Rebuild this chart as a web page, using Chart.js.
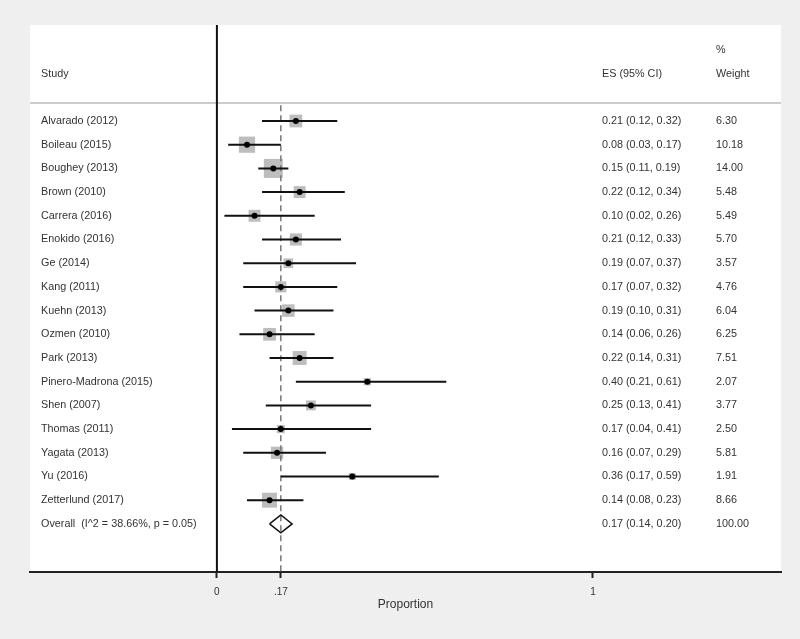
<!DOCTYPE html>
<html><head><meta charset="utf-8">
<script src="https://cdn.jsdelivr.net/npm/chart.js@4.4.1/dist/chart.umd.min.js"></script>
<style>html,body{margin:0;padding:0;background:#efefef;}#wrap{width:800px;height:639px;position:relative}</style>
</head><body><div id="wrap"><canvas id="c" width="800" height="639"></canvas></div>
<script>
const studies = ['Alvarado (2012)','Boileau (2015)','Boughey (2013)','Brown (2010)','Carrera (2016)','Enokido (2016)','Ge (2014)','Kang (2011)','Kuehn (2013)','Ozmen (2010)','Park (2013)','Pinero-Madrona (2015)','Shen (2007)','Thomas (2011)','Yagata (2013)','Yu (2016)','Zetterlund (2017)'];
const es = [0.21,0.08,0.15,0.22,0.10,0.21,0.19,0.17,0.19,0.14,0.22,0.40,0.25,0.17,0.16,0.36,0.14];
const lo = [0.12,0.03,0.11,0.12,0.02,0.12,0.07,0.07,0.10,0.06,0.14,0.21,0.13,0.04,0.07,0.17,0.08];
const hi = [0.32,0.17,0.19,0.34,0.26,0.33,0.37,0.32,0.31,0.26,0.31,0.61,0.41,0.41,0.29,0.59,0.23];
const weights = [6.30,10.18,14.00,5.48,5.49,5.70,3.57,4.76,6.04,6.25,7.51,2.07,3.77,2.50,5.81,1.91,8.66];
const overallLabel = 'Overall  (I^2 = 38.66%, p = 0.05)';
const overallES = 0.17, overallLo = 0.14, overallHi = 0.20, overallWeight = 100.00;
const xTicks = [0, 0.17, 1];
const xTitle = 'Proportion';
const headers = {study:'Study', es:'ES (95% CI)', pct:'%', weight:'Weight'};

const X_MIN = -0.497, X_MAX = 1.5, Y_MIN = -4.05, Y_MAX = 19.03;
const HEADER_Y = -0.76;
const nRows = studies.length;
const overallRow = nRows;
const maxW = Math.max(...weights);
const fmt = v => v.toFixed(2);
const FONT = "'Liberation Sans', Arial, sans-serif";

const ciData = [];
lo.forEach((l, i) => { ciData.push({x:l, y:i}, {x:hi[i], y:i}, {x:NaN, y:NaN}); });

const diamond = [
  {x:overallLo, y:overallRow},
  {x:overallES, y:overallRow-0.38},
  {x:overallHi, y:overallRow},
  {x:overallES, y:overallRow+0.38},
  {x:overallLo, y:overallRow}
];

const bgPlugin = {
  id:'bg',
  beforeDraw(chart){
    const {ctx, chartArea:a} = chart;
    ctx.save();
    ctx.fillStyle = '#efefef';
    ctx.fillRect(0,0,chart.width,chart.height);
    ctx.fillStyle = '#ffffff';
    ctx.fillRect(a.left, a.top, a.right-a.left, a.bottom-a.top);
    ctx.restore();
  }
};

const textPlugin = {
  id:'txt',
  afterDatasetsDraw(chart){
    const {ctx, chartArea:a, scales:{y}} = chart;
    const xStudy = a.left + 11, xES = a.left + 572, xW = a.left + 686;
    ctx.save();
    ctx.font = "10.8px " + FONT;
    ctx.fillStyle = '#333';
    ctx.textBaseline = 'middle';
    ctx.textAlign = 'left';
    ctx.fillText(headers.study, xStudy, y.getPixelForValue(-2));
    ctx.fillText(headers.es, xES, y.getPixelForValue(-2));
    ctx.fillText(headers.pct, xW, y.getPixelForValue(-3));
    ctx.fillText(headers.weight, xW, y.getPixelForValue(-2));
    studies.forEach((s, i) => {
      const py = y.getPixelForValue(i);
      ctx.fillText(s, xStudy, py);
      ctx.fillText(`${fmt(es[i])} (${fmt(lo[i])}, ${fmt(hi[i])})`, xES, py);
      ctx.fillText(fmt(weights[i]), xW, py);
    });
    const po = y.getPixelForValue(overallRow);
    ctx.fillText(overallLabel, xStudy, po);
    ctx.fillText(`${fmt(overallES)} (${fmt(overallLo)}, ${fmt(overallHi)})`, xES, po);
    ctx.fillText(fmt(overallWeight), xW, po);
    ctx.restore();
  }
};

new Chart(document.getElementById('c'), {
  type:'scatter',
  data:{datasets:[
    {label:'es', data:es.map((v,i)=>({x:v,y:i})), pointStyle:'circle', pointRadius:3, backgroundColor:'#000', borderWidth:0, order:0},
    {label:'ci', type:'line', data:ciData, borderColor:'#111', borderWidth:2, pointRadius:0, showLine:true, spanGaps:false, fill:false, order:1},
    {label:'diamond', type:'line', data:diamond, borderColor:'#111', borderWidth:1.5, pointRadius:0, fill:false, tension:0, order:1},
    {label:'overall', type:'line', data:[{x:overallES,y:HEADER_Y+0.1},{x:overallES,y:Y_MAX}], borderColor:'#777', borderWidth:1.5, borderDash:[6,4], pointRadius:0, fill:false, order:2},
    {label:'box', data:es.map((v,i)=>({x:v,y:i})), pointStyle:'rect', pointRadius:ctx=>{const w=weights[ctx.dataIndex]; return (19*Math.sqrt(w/maxW))/Math.SQRT2;}, backgroundColor:'#bdbdbd', borderWidth:0, order:3},
    {label:'zero', type:'line', data:[{x:0,y:Y_MIN},{x:0,y:Y_MAX}], borderColor:'#111', borderWidth:2, pointRadius:0, fill:false, order:4},
    {label:'hdr', type:'line', data:[{x:X_MIN,y:HEADER_Y},{x:X_MAX,y:HEADER_Y}], borderColor:'#bbbbbb', borderWidth:1.5, pointRadius:0, fill:false, order:4}
  ]},
  options:{
    responsive:false, animation:false, devicePixelRatio:1,
    layout:{padding:{left:30, right:19, top:25, bottom:0}},
    plugins:{legend:{display:false}, tooltip:{enabled:false}},
    scales:{
      x:{type:'linear', min:X_MIN, max:X_MAX,
        afterBuildTicks(axis){ axis.ticks = xTicks.map(v=>({value:v})); },
        afterFit(axis){ axis.height = 67; },
        ticks:{autoSkip:false, maxRotation:0, padding:8, color:'#333', font:{size:10, family:FONT},
          callback:v=>String(v).replace(/^0\./,'.')},
        grid:{drawOnChartArea:false, drawTicks:true, tickLength:6, tickWidth:2, tickColor:'#222'},
        border:{display:true, color:'#222', width:2},
        title:{display:true, text:xTitle, color:'#333', font:{size:12, family:FONT}, padding:{top:0,bottom:27}}
      },
      y:{type:'linear', reverse:true, min:Y_MIN, max:Y_MAX, display:false}
    }
  },
  plugins:[bgPlugin, textPlugin]
});
</script></body></html>
